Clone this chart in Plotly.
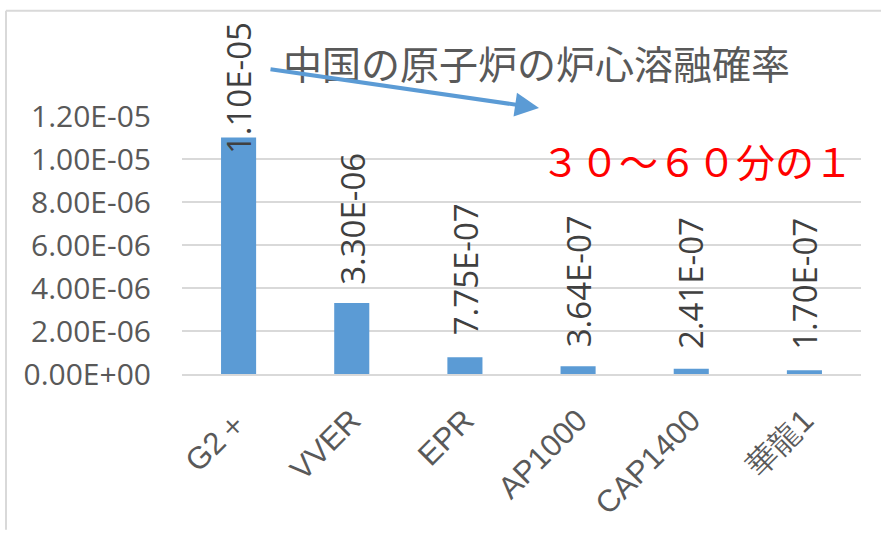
import plotly.graph_objects as go

categories = ["G2＋", "VVER", "EPR", "AP1000", "CAP1400", "華龍1"]
values = [1.10e-05, 3.30e-06, 7.75e-07, 3.64e-07, 2.41e-07, 1.70e-07]
y_ticks = [0, 2e-06, 4e-06, 6e-06, 8e-06, 1.0e-05, 1.2e-05]
title_text = "中国の原子炉の炉心溶融確率"
note_text = "３０～６０分の１"

label_shift = [-19, 16, 20, 17, 18, 19]

W, H = 881, 533
L, R, T, B = 182, 20, 116, 157
PW, PH = W - L - R, H - T - B


def px(x):
    return (x - L) / PW


def py(y):
    return (H - B - y) / PH


BLUE = "#5B9BD5"
GRAY = "#595959"

fig = go.Figure()
fig.add_trace(go.Bar(
    x=categories, y=values, marker_color=BLUE, width=0.31,
    marker_line_width=0, hoverinfo="skip",
))

annotations = []
for c, v, s in zip(categories, values, label_shift):
    annotations.append(dict(
        x=c, y=v, xref="x", yref="y", text=f"{v:.2E}", textangle=-90,
        showarrow=False, yanchor="bottom", xanchor="center", yshift=s,
        font=dict(family="Open Sans", size=33, color="#404040"),
    ))

# arrow
annotations.append(dict(
    x=px(539), y=py(108), xref="paper", yref="paper",
    ax=-270, ay=-39, axref="pixel", ayref="pixel",
    showarrow=True, arrowhead=2, arrowsize=1.2, arrowwidth=4,
    arrowcolor=BLUE, text="",
))
# red note
annotations.append(dict(
    x=px(696.5), y=py(160), xref="paper", yref="paper",
    text=note_text, showarrow=False, xanchor="center", yanchor="middle",
    font=dict(family="Noto Sans CJK JP", size=39, color="#FF0000"),
))

shapes = [
    dict(type="line", xref="paper", yref="paper", x0=px(6), x1=px(881), y0=py(10), y1=py(10),
         line=dict(color="#D9D9D9", width=2)),
    dict(type="line", xref="paper", yref="paper", x0=px(6), x1=px(6), y0=py(10), y1=py(533),
         line=dict(color="#D9D9D9", width=2)),
]

fig.update_layout(
    width=W, height=H,
    margin=dict(l=L, r=R, t=T, b=B),
    paper_bgcolor="white", plot_bgcolor="white",
    showlegend=False,
    title=dict(text=title_text, x=536.5 / W, y=1 - 65 / H, xanchor="center", yanchor="middle",
               font=dict(family="Noto Sans CJK JP", size=39, color=GRAY)),
    annotations=annotations,
    shapes=shapes,
)
fig.update_yaxes(
    range=[0, 1.2e-05], tickvals=y_ticks, ticktext=[f"{v:.2E}" for v in y_ticks],
    showgrid=True, gridcolor="#D9D9D9", gridwidth=1.5, zeroline=False,
    showline=False, ticks="", ticklabelstandoff=30,
    tickfont=dict(family="Open Sans", size=30, color=GRAY),
)
fig.update_xaxes(
    tickangle=-45, showline=True, linecolor="#D9D9D9", linewidth=1.5,
    ticks="", ticklabelstandoff=14,
    tickfont=dict(family="Liberation Sans", size=31, color=GRAY),
)

fig.write_html("out.html")
